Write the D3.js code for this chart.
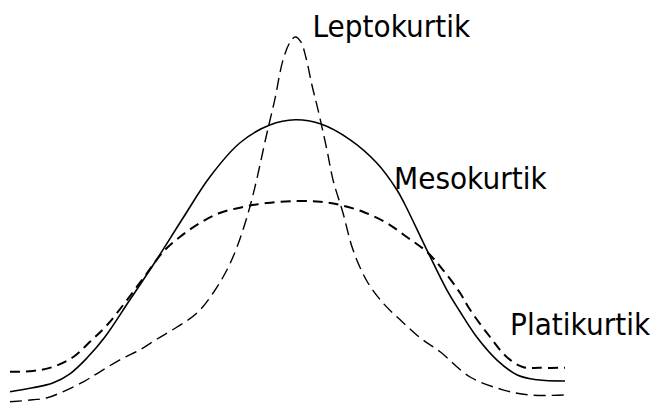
<!DOCTYPE html>
<html>
<head>
<meta charset="utf-8">
<script src="https://cdn.jsdelivr.net/npm/d3@7"></script>
<style>
  body { margin: 0; background: #fff; }
  svg { display: block; }
  text { font-family: "DejaVu Sans", sans-serif; }
</style>
</head>
<body>
<svg id="viz" width="655" height="407"></svg>
<script>
// curves, x and y both 0..100
var mesoX = [0, 4.1, 7.7, 10.8, 13.9, 17.1, 21.6, 26.5, 31.2, 36.0, 41.4, 46.8, 51.4, 55.9, 61.3, 66.1, 69.7, 71.2, 75.1, 78.7, 81.1, 84.1, 87.7, 91.4, 95.0, 100]
  , mesoY = [3.3, 4.3, 5.5, 7.8, 11.8, 17, 26.3, 36.5, 46.8, 57, 65.5, 70, 71.3, 70.3, 66.3, 60.5, 53.8, 50, 38.8, 28.8, 23.3, 17, 11.3, 7.5, 6.3, 6];

var platiX = [0, 4.1, 7.7, 11.4, 14.4, 17.5, 21.1, 24.7, 27.6, 30.6, 34.2, 37.8, 42.0, 46.3, 51.4, 55.9, 59.5, 63.6, 67.9, 71.5, 75.1, 78.0, 81.1, 82.9, 86.5, 89.5, 92.4, 95.5, 100]
  , platiY = [8.3, 8.5, 9.5, 12, 15.8, 20, 26.3, 33, 38.3, 42, 45.5, 48, 49.5, 50.5, 51, 50.8, 50, 48.3, 45.5, 42, 38.3, 33.8, 28, 23.8, 17, 12, 9.5, 9.3, 9.3];

var leptoX = [0, 4.1, 6.7, 9.5, 13.2, 16.2, 19.8, 23.4, 26.5, 30.1, 33.7, 36.6, 39.1, 40.9, 42.7, 44.1, 46.3, 47.7, 49.2, 50.5, 51.4, 52.4, 53.3, 54.4, 55.5, 57.1, 58.2, 60.0, 61.8, 64.3, 67.2, 70.3, 73.9, 77.5, 82.9, 88.8, 93.7, 100]
  , leptoY = [0.8, 1.3, 1.8, 3.3, 5.8, 8.3, 11.3, 13.8, 16.5, 19.5, 23, 28, 33.8, 39.5, 47, 54.3, 68, 76.3, 86.3, 90.8, 92, 90.8, 87, 80, 73.8, 63.8, 56.3, 48, 38.8, 31, 25.5, 21.3, 16.8, 13.3, 7, 3.8, 2.5, 2.5];

var labelNames = ["Leptokurtik", "Mesokurtik", "Platikurtik"]
  , labelX = [54.5, 69.2, 90.1]
  , labelY = [92, 54, 17.5];

var svg = d3.select("#viz")
  , x = d3.scaleLinear().domain([0, 100]).range([10, 565])
  , y = d3.scaleLinear().domain([0, 100]).range([405, 5]);

var line = d3.line()
  .x(d => x(d[0]))
  .y(d => y(d[1]))
  .curve(d3.curveCatmullRom.alpha(0.5));

var series = [
  {xs: platiX, ys: platiY, width: 2, dash: "10,6"},
  {xs: leptoX, ys: leptoY, width: 1.4, dash: "12,6"},
  {xs: mesoX, ys: mesoY, width: 1.6, dash: null}
];

svg.selectAll("path.curve")
  .data(series)
  .enter().append("path")
    .attr("class", "curve")
    .attr("d", s => line(d3.zip(s.xs, s.ys)))
    .attr("fill", "none")
    .attr("stroke", "#000")
    .attr("stroke-width", s => s.width)
    .attr("stroke-dasharray", s => s.dash);

// labels, slightly tall like in the picture
svg.selectAll("text.label")
  .data(labelNames)
  .enter().append("text")
    .attr("class", "label")
    .attr("transform", (d, i) => "translate(" + x(labelX[i]) + "," + y(labelY[i]) + ") scale(1,1.08)")
    .attr("font-size", 28)
    .attr("fill", "#000")
    .text(d => d);
</script>
</body>
</html>
